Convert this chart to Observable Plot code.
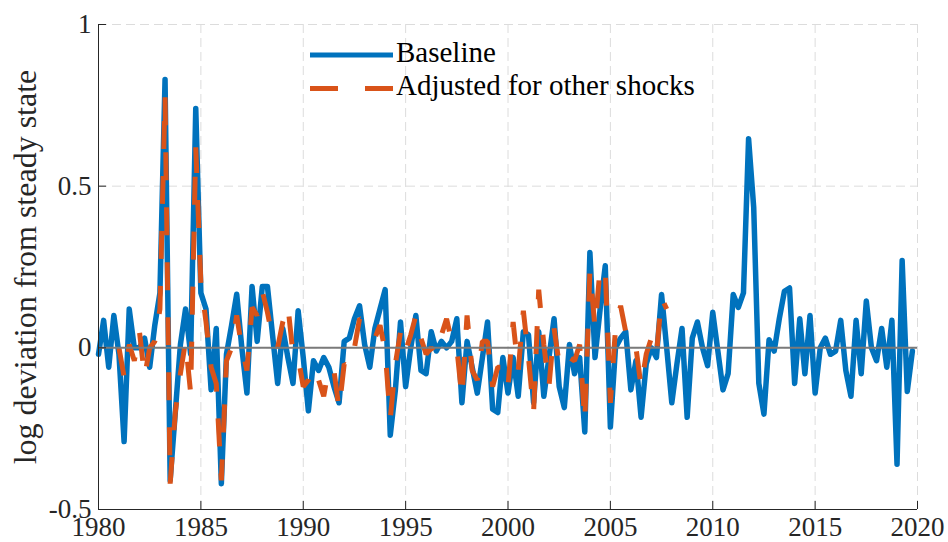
<!DOCTYPE html>
<html>
<head>
<meta charset="utf-8">
<script src="https://cdn.jsdelivr.net/npm/d3@7"></script>
<script src="https://cdn.jsdelivr.net/npm/@observablehq/plot@0.6"></script>
<style>
  html, body { margin: 0; padding: 0; background: #fff; }
  #wrap { position: relative; width: 948px; height: 542px; }
  #wrap svg { font-family: "Liberation Serif", "Times New Roman", serif; }
  #legend { position: absolute; left: 0; top: 0; pointer-events: none; }
</style>
</head>
<body>
<div id="wrap"></div>
<script>
// ---- data (quarterly) ----
const baselineStart = 1980;      // first quarter of baseline series
const adjustedStart = 1981;      // first quarter of adjusted series
const baseline = [
  -0.02, 0.085, -0.06, 0.10, -0.02, -0.29, 0.12, 0.0,
  0.0, 0.03, -0.06, 0.07, 0.17, 0.83, -0.41, -0.2,
  0.01, 0.12, -0.02, 0.74, 0.17, 0.12, -0.13, 0.06,
  -0.42, -0.02, 0.07, 0.166, 0.0, -0.14, 0.19, 0.02,
  0.19, 0.19, 0.04, -0.11, 0.06, -0.03, -0.11, 0.115,
  -0.03, -0.195, -0.04, -0.07, -0.03, -0.06, -0.12, -0.17,
  0.02, 0.03, 0.09, 0.13, 0.01, -0.06, 0.06, 0.12,
  0.18, -0.27, -0.13, 0.08, -0.12, 0.0, 0.10, -0.07,
  -0.08, 0.05, -0.01, 0.02, 0.0, 0.02, 0.09, -0.17,
  0.02, -0.06, -0.14, -0.03, 0.08, -0.19, -0.2, -0.03,
  -0.14, -0.03, -0.15, 0.05, 0.04, -0.17, 0.05, -0.15,
  -0.03, 0.09, -0.12, -0.185, 0.01, -0.08, -0.03, -0.26,
  0.295, -0.03, 0.12, 0.254, -0.245, 0.0, 0.03, 0.05,
  -0.13, -0.04, -0.215, -0.05, 0.0, -0.03, 0.165, 0.0,
  -0.17, -0.05, 0.06, -0.215, 0.03, 0.08, 0.0, -0.055,
  0.11, -0.01, -0.13, -0.08, 0.165, 0.125, 0.17, 0.647,
  0.435, -0.11, -0.205, 0.025, -0.01, 0.09, 0.175, 0.185,
  -0.11, 0.09, -0.08, 0.10, -0.14, 0.0, 0.03, -0.02,
  -0.01, 0.085, -0.07, -0.15, 0.085, -0.08, 0.145, 0.0,
  -0.04, 0.06, -0.06, 0.085, -0.36, 0.27, -0.135, -0.01
];
const adjusted = [
  0.0, -0.09, 0.01, -0.04, 0.05, -0.09, 0.0, 0.02,
  0.12, 0.78, -0.42, -0.2, -0.08, 0.02, -0.14, 0.62,
  0.2, 0.08, -0.06, -0.11, -0.41, -0.04, 0.0, 0.1,
  0.0, -0.07, 0.125, 0.1, 0.175, 0.11, 0.03, 0.0,
  0.08, 0.13, -0.02, -0.03, -0.12, -0.1, -0.06, -0.1,
  -0.15, -0.06, -0.07, -0.19, -0.05, -0.06, 0.0, 0.09,
  0.08, 0.06, 0.03, 0.07, -0.01, -0.22, -0.05, 0.05,
  -0.01, 0.04, 0.1, 0.03, -0.02, 0.0, -0.02, 0.04,
  0.09, 0.02, 0.0, -0.155, 0.1, -0.07, -0.1, 0.02,
  0.02, -0.12, -0.06, -0.06, -0.12, 0.08, -0.07, 0.115,
  -0.03, -0.2, 0.18, 0.01, -0.12, 0.06, -0.05, -0.06,
  -0.03, -0.04, 0.01, -0.23, 0.24, 0.06, 0.25, 0.24,
  -0.17, 0.06, 0.13, 0.05, 0.05, 0.0, -0.12, -0.02,
  0.03, -0.02, 0.155, 0.12
];
const xTicks = [1980, 1985, 1990, 1995, 2000, 2005, 2010, 2015, 2020];
const yTicks = [-0.5, 0, 0.5, 1];
const seriesNames = ["Baseline", "Adjusted for other shocks"];
const seriesColors = ["#0072BD", "#D95319"];
const yLabel = "log deviation from steady state";

// ---- build tables ----
const toRows = (vals, start) => vals.map((v, i) => ({date: start + i / 4, value: v}));
const baseRows = toRows(baseline, baselineStart);
const adjRows = toRows(adjusted, adjustedStart);

const axisColor = "#262626";
const gridStyle = {stroke: "#dcdcdc", strokeWidth: 1, strokeDasharray: "9,5"};

const chart = Plot.plot({
  width: 948,
  height: 542,
  marginLeft: 98,
  marginRight: 31,
  marginTop: 24,
  marginBottom: 33,
  style: {fontFamily: "'Liberation Serif', 'Times New Roman', serif", fontSize: "27px", color: axisColor, background: "#fff", overflow: "visible"},
  x: {domain: [1980, 2020], ticks: xTicks, tickSize: 0, tickPadding: 7, tickFormat: d => String(d), label: null},
  y: {domain: [-0.5, 1], ticks: yTicks, tickSize: 0, tickPadding: 7, tickFormat: d => String(d), label: null},
  marks: [
    // grid
    Plot.ruleX(xTicks, {x: d => d, ...gridStyle}),
    Plot.ruleY(yTicks, {y: d => d, ...gridStyle}),
    // series
    Plot.line(baseRows, {x: "date", y: "value", stroke: seriesColors[0], strokeWidth: 5.5, strokeLinejoin: "round", strokeLinecap: "round"}),
    Plot.line(adjRows, {x: "date", y: "value", stroke: seriesColors[1], strokeWidth: 5, strokeDasharray: "28,27", strokeLinejoin: "miter", strokeLinecap: "butt"}),
    // zero line
    Plot.ruleY([0], {stroke: "#7a7a7a", strokeWidth: 2}),
    // axis lines
    Plot.ruleX([1980], {stroke: axisColor, strokeWidth: 1}),
    Plot.ruleY([-0.5], {stroke: axisColor, strokeWidth: 1}),
    // inward ticks
    Plot.ruleX(xTicks, {x: d => d, y1: -0.5, y2: -0.5, insetTop: -8, stroke: axisColor, strokeWidth: 1}),
    Plot.ruleY(yTicks, {y: d => d, x1: 1980, x2: 1980, insetRight: -8, stroke: axisColor, strokeWidth: 1}),
    // y-axis label
    Plot.text([yLabel], {text: d => d, frameAnchor: "left", textAnchor: "middle", lineAnchor: "middle", rotate: -90, dx: -73, fontSize: 32, fill: axisColor, fontFamily: "'Liberation Serif', serif"})
  ]
});

const wrap = document.getElementById("wrap");
wrap.appendChild(chart);

// ---- legend overlay ----
const ns = "http://www.w3.org/2000/svg";
const leg = document.createElementNS(ns, "svg");
leg.setAttribute("id", "legend");
leg.setAttribute("width", 948);
leg.setAttribute("height", 542);
const legRows = [
  {name: seriesNames[0], color: seriesColors[0], dash: null, cy: 55, base: 62},
  {name: seriesNames[1], color: seriesColors[1], dash: "28,27", cy: 88.5, base: 95}
];
for (const r of legRows) {
  const ln = document.createElementNS(ns, "line");
  ln.setAttribute("x1", 310); ln.setAttribute("x2", 393);
  ln.setAttribute("y1", r.cy); ln.setAttribute("y2", r.cy);
  ln.setAttribute("stroke", r.color);
  ln.setAttribute("stroke-width", 5);
  if (r.dash) ln.setAttribute("stroke-dasharray", r.dash);
  leg.appendChild(ln);
  const tx = document.createElementNS(ns, "text");
  tx.setAttribute("x", 396);
  tx.setAttribute("y", r.base);
  tx.setAttribute("font-size", 29);
  tx.setAttribute("fill", "#000");
  tx.setAttribute("font-family", "'Liberation Serif', serif");
  tx.textContent = r.name;
  leg.appendChild(tx);
}
wrap.appendChild(leg);
</script>
</body>
</html>
